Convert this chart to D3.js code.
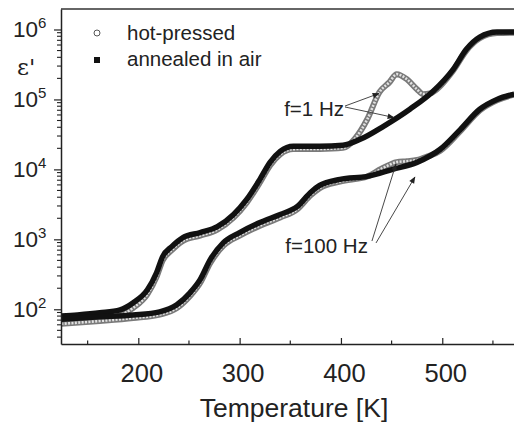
<!DOCTYPE html>
<html>
<head>
<meta charset="utf-8">
<script src="https://cdn.jsdelivr.net/npm/d3@7"></script>
<style>
  body { margin: 0; background: #fff; }
  svg { display: block; font-family: "Liberation Sans", Arial, Helvetica, sans-serif; }
</style>
</head>
<body>
<div id="chart"></div>
<script>
// Dielectric permittivity vs temperature.

// f = 1 Hz, annealed in air
const tempAnnealed1 = [124, 140, 162, 182, 195, 209, 218, 224, 233, 244, 261, 278, 294, 307, 320, 330, 340, 353, 379, 402, 419, 442, 468, 491, 511, 524, 537, 554, 571];
const epsAnnealed1 = [80, 83, 89, 98, 124, 190, 333, 566, 787, 1060, 1250, 1520, 2270, 3720, 7200, 12600, 18100, 21400, 21400, 22100, 26900, 41300, 72400, 131000, 272000, 525000, 777000, 920000, 920000];

// f = 1 Hz, hot-pressed
const tempPressed1 = [124, 140, 162, 182, 195, 209, 218, 224, 233, 244, 261, 278, 294, 307, 320, 330, 340, 353, 379, 402, 414, 426, 438, 448, 455, 465, 475, 481, 488, 491, 511, 524, 537, 554, 571];
const epsPressed1 = [64, 67, 72, 82, 105, 165, 290, 500, 700, 950, 1130, 1380, 2050, 3350, 6500, 11400, 16400, 19500, 19600, 20300, 27700, 52100, 127000, 177000, 230000, 195000, 140000, 119000, 122000, 128000, 262000, 505000, 750000, 890000, 900000];

// f = 100 Hz, annealed in air
const tempAnnealed100 = [124, 162, 195, 221, 238, 251, 261, 271, 284, 300, 320, 340, 357, 370, 379, 399, 426, 451, 475, 498, 518, 537, 554, 571];
const epsAnnealed100 = [72, 78, 83, 92, 116, 172, 265, 513, 898, 1250, 1740, 2270, 2950, 4680, 5890, 7200, 7940, 10000, 12600, 19400, 37400, 72400, 100000, 119000];

// f = 100 Hz, hot-pressed
const tempPressed100 = [124, 162, 195, 221, 238, 251, 261, 271, 284, 300, 320, 340, 357, 370, 379, 399, 426, 440, 455, 465, 475, 485, 498, 518, 537, 554, 571];
const epsPressed100 = [62, 68, 75, 84, 104, 155, 238, 460, 810, 1130, 1570, 2050, 2700, 4250, 5400, 6700, 7900, 10200, 12700, 13100, 13600, 15200, 18500, 35500, 69500, 97000, 117000];

// axes
const xTicks = [200, 300, 400, 500];
const xMinorTicks = [150, 250, 350, 450, 550];
const yDecades = [2, 3, 4, 5, 6];
const legendLabels = ["hot-pressed", "annealed in air"];

// annotations: label, text anchor point, arrows [from, to] in data units
const noteLabels = ["f=1 Hz", "f=100 Hz"];
const noteAnchors = [[403, 58000], [426.6, 640]];
const noteArrows = [
  [[[404, 80500], [437.5, 121600]], [[404, 78000], [452.3, 55200]]],
  [[[430.6, 946], [454.3, 11900]], [[434.6, 887], [473, 7780]]]
];

const width = 514;
const height = 422;
const plotLeft = 61, plotTop = 9, plotBottom = 344, plotRight = 514;

const svg = d3.select("#chart")
  .append("svg")
    .attr("width", width)
    .attr("height", height);

const x = d3.scaleLinear()
  .domain([123.7, 570.8])
  .range([plotLeft, plotRight]);

const y = d3.scaleLog()
  .domain([31.9, 1.963e6])
  .range([plotBottom, plotTop]);

const defs = svg.append("defs");
defs.append("clipPath")
    .attr("id", "plot-clip")
  .append("rect")
    .attr("x", plotLeft)
    .attr("y", plotTop)
    .attr("width", plotRight - plotLeft)
    .attr("height", plotBottom - plotTop);

defs.append("marker")
    .attr("id", "arrowhead")
    .attr("viewBox", "0 0 10 10")
    .attr("refX", 9)
    .attr("refY", 5)
    .attr("markerWidth", 9)
    .attr("markerHeight", 7)
    .attr("markerUnits", "userSpaceOnUse")
    .attr("orient", "auto")
  .append("path")
    .attr("d", "M0,1 L10,5 L0,9 Z")
    .attr("fill", "#222");

const line = d3.line()
  .x(d => x(d[0]))
  .y(d => y(d[1]))
  .curve(d3.curveMonotoneX);

const plot = svg.append("g").attr("clip-path", "url(#plot-clip)");

// hot-pressed: open grey circles, drawn as a banded line
function drawPressed(temps, eps) {
  const pts = d3.zip(temps, eps);
  plot.append("path")
    .attr("d", line(pts))
    .attr("fill", "none")
    .attr("stroke", "#7a7a7a")
    .attr("stroke-width", 6)
    .attr("stroke-linejoin", "round");
  plot.append("path")
    .attr("d", line(pts))
    .attr("fill", "none")
    .attr("stroke", "#e2e2e2")
    .attr("stroke-width", 2.6)
    .attr("stroke-dasharray", "2,1.4");
}

// annealed in air: dense filled black squares
function drawAnnealed(temps, eps) {
  plot.append("path")
    .attr("d", line(d3.zip(temps, eps)))
    .attr("fill", "none")
    .attr("stroke", "#111")
    .attr("stroke-width", 5.5)
    .attr("stroke-linejoin", "round");
}

drawPressed(tempPressed1, epsPressed1);
drawPressed(tempPressed100, epsPressed100);
drawAnnealed(tempAnnealed1, epsAnnealed1);
drawAnnealed(tempAnnealed100, epsAnnealed100);

// frame
svg.append("line")
  .attr("x1", plotLeft).attr("x2", plotRight)
  .attr("y1", plotTop).attr("y2", plotTop)
  .attr("stroke", "#333").attr("stroke-width", 1.5);

// x axis (ticks pointing in)
const xAxis = svg.append("g")
  .attr("transform", `translate(0,${plotBottom})`)
  .call(d3.axisBottom(x).tickValues(xTicks).tickSizeInner(-6).tickSizeOuter(0).tickFormat(d3.format("d")));
xAxis.select(".domain").attr("stroke", "#222").attr("stroke-width", 1.5);
xAxis.selectAll(".tick line").attr("stroke", "#222").attr("stroke-width", 1.2);
xAxis.selectAll(".tick text")
  .attr("y", 38)
  .attr("dy", 0)
  .attr("dx", 3)
  .attr("font-size", 25.5)
  .attr("font-family", "Liberation Sans, Arial, sans-serif")
  .attr("fill", "#222");

svg.append("g")
  .selectAll("line")
  .data(xMinorTicks)
  .join("line")
    .attr("x1", d => x(d)).attr("x2", d => x(d))
    .attr("y1", plotBottom).attr("y2", plotBottom - 3.5)
    .attr("stroke", "#222").attr("stroke-width", 1.2);

// y axis (log, ticks pointing out)
const yMinor = [];
for (let e = 1; e <= 6; e++) {
  for (let m = 2; m <= 9; m++) {
    const v = m * Math.pow(10, e);
    if (v >= y.domain()[0] && v <= y.domain()[1]) yMinor.push(v);
  }
}
const yAxis = svg.append("g")
  .attr("transform", `translate(${plotLeft},0)`)
  .call(d3.axisLeft(y).tickValues(yDecades.map(d => Math.pow(10, d))).tickSizeInner(7).tickSizeOuter(0).tickFormat(""));
yAxis.select(".domain").attr("stroke", "#222").attr("stroke-width", 1.5);
yAxis.selectAll(".tick line").attr("stroke", "#222").attr("stroke-width", 1.2);

svg.append("g")
  .selectAll("line")
  .data(yMinor)
  .join("line")
    .attr("x1", plotLeft).attr("x2", plotLeft - 4)
    .attr("y1", d => y(d)).attr("y2", d => y(d))
    .attr("stroke", "#222").attr("stroke-width", 1.1);

const yLabels = svg.append("g")
  .selectAll("text")
  .data(yDecades)
  .join("text")
    .attr("x", 13)
    .attr("y", d => y(Math.pow(10, d)) + 8)
    .attr("font-size", 22.5)
    .attr("fill", "#222");
yLabels.append("tspan").text("10");
yLabels.append("tspan")
  .attr("dy", -9)
  .attr("font-size", 15)
  .text(d => d);

// axis titles
svg.append("text")
  .attr("x", 294)
  .attr("y", 417)
  .attr("text-anchor", "middle")
  .attr("font-size", 26.5)
  .attr("fill", "#222")
  .text("Temperature [K]");

svg.append("text")
  .attr("x", 17)
  .attr("y", 75)
  .attr("font-size", 23)
  .attr("font-family", "DejaVu Serif, Liberation Serif, serif")
  .attr("fill", "#222")
  .text("ε'");

// legend
const legend = svg.append("g");
legend.append("circle")
  .attr("cx", 97).attr("cy", 33).attr("r", 3)
  .attr("fill", "#fff").attr("stroke", "#555").attr("stroke-width", 1);
legend.append("rect")
  .attr("x", 94).attr("y", 57).attr("width", 6).attr("height", 6)
  .attr("fill", "#111");
legend.selectAll("text")
  .data(legendLabels)
  .join("text")
    .attr("x", 127)
    .attr("y", (d, i) => 40 + i * 26)
    .attr("font-size", 20.5)
    .attr("fill", "#222")
    .text(d => d);

// annotations with arrows
noteLabels.forEach((label, i) => {
  svg.append("text")
    .attr("x", x(noteAnchors[i][0]))
    .attr("y", y(noteAnchors[i][1]))
    .attr("text-anchor", "end")
    .attr("font-size", 20.5)
    .attr("fill", "#222")
    .text(label);
  noteArrows[i].forEach(([from, to]) => {
    svg.append("line")
      .attr("x1", x(from[0])).attr("y1", y(from[1]))
      .attr("x2", x(to[0])).attr("y2", y(to[1]))
      .attr("stroke", "#333")
      .attr("stroke-width", 0.9)
      .attr("marker-end", "url(#arrowhead)");
  });
});
</script>
</body>
</html>
